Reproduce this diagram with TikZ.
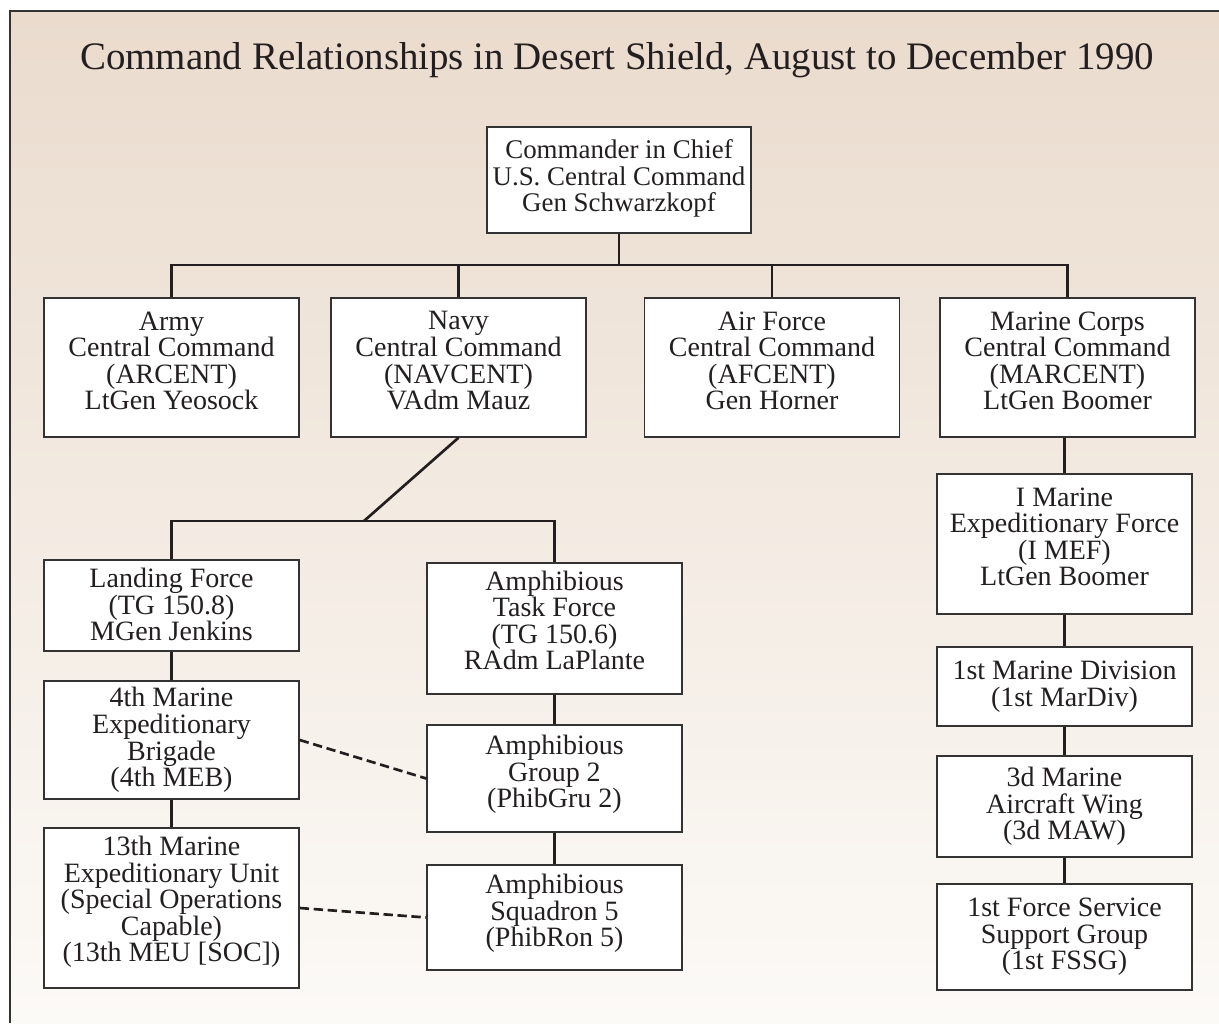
\documentclass[tikz,border=0pt]{standalone}
\usepackage{fontspec}
\setmainfont{Liberation Serif}
\definecolor{bgtop}{HTML}{EADBCD}
\definecolor{bgmid}{HTML}{E2CAB8}
\definecolor{bgbot}{HTML}{FCFAF7}
\definecolor{ink}{HTML}{231F20}
\definecolor{frame}{HTML}{333333}
\begin{document}
\begin{tikzpicture}[x=0.75pt,y=-0.75pt,
  orgbox/.style={draw=frame, line width=1.1pt, fill=white, inner sep=0pt, minimum width=191.25pt},
  orgtext/.style={align=center, inner sep=0pt, text=ink, font=\fontsize{21}{19.9}\selectfont},
  link/.style={draw=ink, line width=2pt},
  dotlink/.style={draw=ink, line width=2pt, dash pattern=on 7pt off 3.5pt}]
\useasboundingbox (0,0) rectangle (1219,1023);
\shade[top color=bgtop, middle color=bgmid, bottom color=bgbot] (10,11) rectangle (1219,1023);
\draw[frame, line width=1.5pt] (10,1023) -- (10,11) -- (1219,11);

\node[text=ink, font=\fontsize{29.2}{30}\selectfont] (title) at (617,60) {Command Relationships in Desert Shield, August to December 1990};

% boxes
\node[orgbox, minimum width=198pt, minimum height=79.5pt] (cinc) at (619,180) {};
\node[orgbox, minimum height=104.25pt] (army) at (171.5,367.5) {};
\node[orgbox, minimum height=104.25pt] (navy) at (458.5,367.5) {};
\node[orgbox, minimum height=104.25pt] (af) at (772,367.5) {};
\node[orgbox, minimum height=104.25pt] (marine) at (1067.5,367.5) {};
\node[orgbox, minimum height=68.25pt] (landing) at (171.5,605.5) {};
\node[orgbox, minimum height=88.5pt] (meb) at (171.5,740) {};
\node[orgbox, minimum height=120pt] (meu) at (171.5,908) {};
\node[orgbox, minimum height=98.25pt] (atf) at (554.5,628.5) {};
\node[orgbox, minimum height=80.25pt] (gru) at (554.5,778.5) {};
\node[orgbox, minimum height=78.75pt] (ron) at (554.5,917.5) {};
\node[orgbox, minimum height=105pt] (mef) at (1064.5,544) {};
\node[orgbox, minimum height=59.25pt] (mardiv) at (1064.5,686.5) {};
\node[orgbox, minimum height=75.75pt] (maw) at (1064.5,806.5) {};
\node[orgbox, minimum height=79.5pt] (fssg) at (1064.5,937) {};

% texts
\node[orgtext, font=\fontsize{20.2}{19.9}\selectfont] (cinc-t) at ([yshift=1pt]cinc.center) {Commander in Chief\\U.S. Central Command\\Gen Schwarzkopf};
\node[orgtext] (army-t) at ([yshift=5pt]army.center) {Army\\Central Command\\(ARCENT)\\LtGen Yeosock};
\node[orgtext] (navy-t) at ([yshift=5pt]navy.center) {Navy\\Central Command\\(NAVCENT)\\VAdm Mauz};
\node[orgtext] (af-t) at ([yshift=5pt]af.center) {Air Force\\Central Command\\(AFCENT)\\Gen Horner};
\node[orgtext] (marine-t) at ([yshift=5pt]marine.center) {Marine Corps\\Central Command\\(MARCENT)\\LtGen Boomer};
\node[orgtext] (landing-t) at ([yshift=0.5pt]landing.center) {Landing Force\\(TG 150.8)\\MGen Jenkins};
\node[orgtext] (meb-t) at ([yshift=0pt]meb.center) {4th Marine\\Expeditionary\\Brigade\\(4th MEB)};
\node[orgtext] (meu-t) at ([yshift=4.5pt]meu.center) {13th Marine\\Expeditionary Unit\\(Special Operations\\Capable)\\(13th MEU [SOC])};
\node[orgtext] (atf-t) at ([yshift=6pt]atf.center) {Amphibious\\Task Force\\(TG 150.6)\\RAdm LaPlante};
\node[orgtext] (gru-t) at ([yshift=3pt]gru.center) {Amphibious\\Group 2\\(PhibGru 2)};
\node[orgtext] (ron-t) at ([yshift=3pt]ron.center) {Amphibious\\Squadron 5\\(PhibRon 5)};
\node[orgtext] (mef-t) at ([yshift=5.5pt]mef.center) {I Marine\\Expeditionary Force\\(I MEF)\\LtGen Boomer};
\node[orgtext] (mardiv-t) at (mardiv.center) {1st Marine Division\\(1st MarDiv)};
\node[orgtext] (maw-t) at (maw.center) {3d Marine\\Aircraft Wing\\(3d MAW)};
\node[orgtext] (fssg-t) at (fssg.center) {1st Force Service\\Support Group\\(1st FSSG)};

\coordinate (bus) at (0,265);
\coordinate (bustwo) at (364,521);

\draw[link] (cinc.south) -- (cinc.south |- bus);
\draw[link] (army.north) -- (army.north |- bus) -- (marine.north |- bus) -- (marine.north);
\draw[link] (navy.north) -- (navy.north |- bus);
\draw[link] (af.north) -- (af.north |- bus);

\draw[link] (navy.south) -- (bustwo);
\draw[link] (landing.north) -- (landing.north |- bustwo) -- (atf.north |- bustwo) -- (atf.north);

\draw[link] (landing.south) -- (meb.north);
\draw[link] (meb.south) -- (meu.north);
\draw[link] (atf.south) -- (gru.north);
\draw[link] (gru.south) -- (ron.north);

\draw[link] (mef.north |- marine.south) -- (mef.north);
\draw[link] (mef.south) -- (mardiv.north);
\draw[link] (mardiv.south) -- (maw.north);
\draw[link] (maw.south) -- (fssg.north);

\draw[dotlink] (meb.east) -- (gru.west);
\draw[dotlink] (meu.east) -- (ron.west);
\end{tikzpicture}
\end{document}
